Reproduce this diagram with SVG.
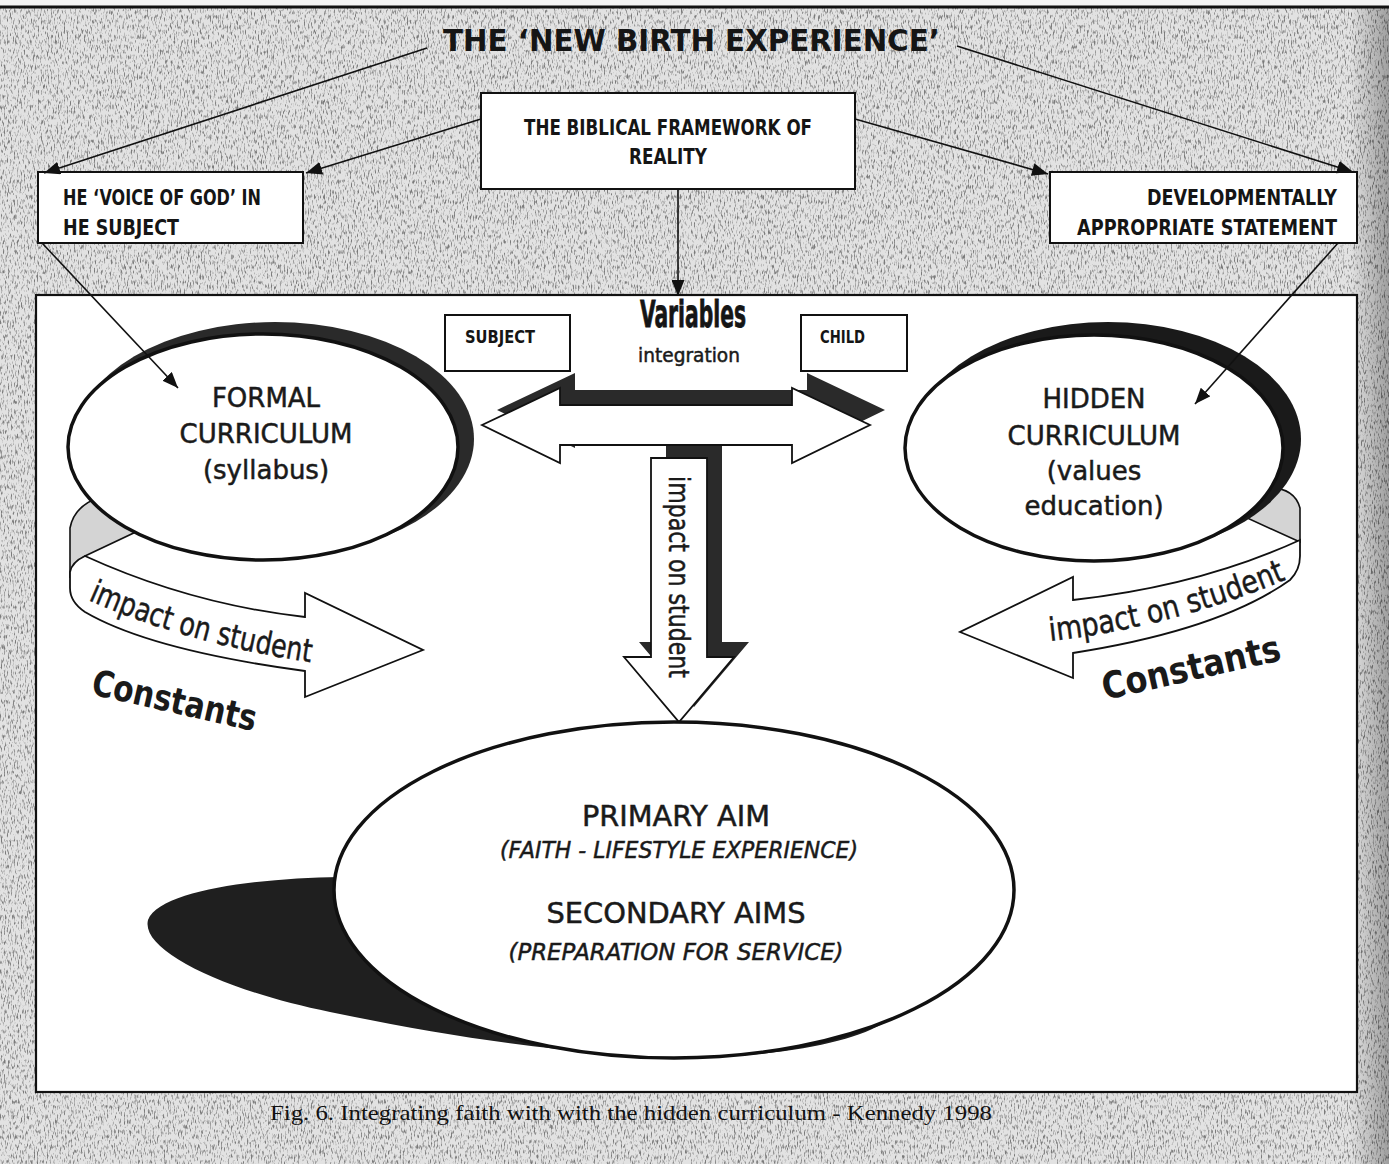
<svg xmlns="http://www.w3.org/2000/svg" width="1389" height="1164" viewBox="0 0 1389 1164">
  <defs>
    <style>
      .box{fill:#fff;stroke:#111;stroke-width:2}
      .cond{font-family:"Liberation Sans Narrow","DejaVu Sans Condensed","Liberation Sans",sans-serif;font-weight:bold;fill:#151515}
      .geo{font-family:"DejaVu Sans","Liberation Sans",sans-serif;fill:#1a1a1a;stroke:#1a1a1a;stroke-width:0.5}
      .geoB{font-family:"DejaVu Sans","Liberation Sans",sans-serif;font-weight:bold;fill:#1a1a1a}
      .conn{stroke:#111;stroke-width:1.6;fill:none;marker-end:url(#ah)}
      .outline{fill:#fff;stroke:#111;stroke-width:1.8;stroke-linejoin:miter}
      .shade{fill:#2a2a2a}
      .ell{fill:#fff;stroke:#111;stroke-width:3.5}
    </style>
    <marker id="ah" markerUnits="userSpaceOnUse" markerWidth="17" markerHeight="13" refX="16" refY="6.5" orient="auto">
      <path d="M0,0 L16,6.5 L0,13 Z" fill="#111"/>
    </marker>
    <filter id="grain" x="0" y="0" width="100%" height="100%">
      <feTurbulence type="fractalNoise" baseFrequency="0.7 0.2" numOctaves="2" seed="7"/>
      <feColorMatrix type="matrix" values="0 0 0 0 0  0 0 0 0 0  0 0 0 0 0  4 0 0 0 -2.05"/>
    </filter>
    <linearGradient id="edge" x1="0" y1="0" x2="1" y2="0">
      <stop offset="0" stop-color="#000" stop-opacity="0"/>
      <stop offset="1" stop-color="#000" stop-opacity="0.3"/>
    </linearGradient>
  </defs>

  <!-- page background with scanned grain -->
  <rect x="0" y="0" width="1389" height="1164" fill="#f4f4f4"/>
  <rect x="0" y="7" width="1389" height="1157" fill="#e2e2e2"/>
  <rect x="0" y="7" width="1389" height="1157" filter="url(#grain)" opacity="0.45"/>
  <rect x="1350" y="7" width="39" height="1157" fill="url(#edge)"/>
  <line x1="0" y1="7" x2="1389" y2="7" stroke="#111" stroke-width="3"/>

  <!-- inner frame -->
  <rect id="frame" x="36" y="295" width="1321" height="797" fill="#fff" stroke="#111" stroke-width="2.2"/>

  <!-- title -->
  <g id="title">
    <text class="cond" x="443" y="51" font-size="31" textLength="497" lengthAdjust="spacingAndGlyphs">THE ‘NEW BIRTH EXPERIENCE’</text>
  </g>

  <g id="framework">
    <rect class="box" x="481" y="93" width="374" height="96"/>
    <text class="cond" x="668" y="135" font-size="21" text-anchor="middle" textLength="288" lengthAdjust="spacingAndGlyphs">THE BIBLICAL FRAMEWORK OF</text>
    <text class="cond" x="668" y="164" font-size="21" text-anchor="middle" textLength="78" lengthAdjust="spacingAndGlyphs">REALITY</text>
  </g>

  <g id="voice-of-god">
    <rect class="box" x="38" y="172" width="265" height="71"/>
    <text class="cond" x="63" y="205" font-size="21" textLength="198" lengthAdjust="spacingAndGlyphs">HE ‘VOICE OF GOD’ IN</text>
    <text class="cond" x="63" y="235" font-size="21" textLength="116" lengthAdjust="spacingAndGlyphs">HE SUBJECT</text>
  </g>

  <g id="developmental">
    <rect class="box" x="1050" y="172" width="307" height="71"/>
    <text class="cond" x="1337" y="205" font-size="21" text-anchor="end" textLength="190" lengthAdjust="spacingAndGlyphs">DEVELOPMENTALLY</text>
    <text class="cond" x="1337" y="235" font-size="21" text-anchor="end" textLength="260" lengthAdjust="spacingAndGlyphs">APPROPRIATE STATEMENT</text>
  </g>

  <!-- ring bands behind the curriculum ellipses -->
  <g id="formal-band-back">
    <path d="M70,578 L70,528 Q74,506 100,497 L140,530 L85,556 Q74,563 70,578 Z" fill="#d4d4d4" stroke="#111" stroke-width="1.6"/>
  </g>
  <g id="hidden-band-back">
    <path d="M1238,492 Q1292,478 1300,508 L1300,542 L1245,517 Z" fill="#d4d4d4" stroke="#111" stroke-width="1.6"/>
  </g>

  <!-- formal curriculum -->
  <g id="formal-curriculum">
    <ellipse class="shade" cx="275" cy="439" rx="199" ry="117"/>
    <ellipse class="ell" cx="263" cy="447" rx="195" ry="113"/>
    <text class="geo" x="266" y="407" font-size="26" text-anchor="middle">FORMAL</text>
    <text class="geo" x="266" y="443" font-size="26" text-anchor="middle">CURRICULUM</text>
    <text class="geo" x="266" y="479" font-size="26" text-anchor="middle">(syllabus)</text>
  </g>

  <!-- hidden curriculum -->
  <g id="hidden-curriculum">
    <ellipse cx="1108" cy="439" rx="193" ry="117" fill="#1a1a1a"/>
    <ellipse class="ell" cx="1094" cy="448" rx="189" ry="113"/>
    <text class="geo" x="1094" y="408" font-size="26" text-anchor="middle">HIDDEN</text>
    <text class="geo" x="1094" y="445" font-size="26" text-anchor="middle">CURRICULUM</text>
    <text class="geo" x="1094" y="480" font-size="26" text-anchor="middle">(values</text>
    <text class="geo" x="1094" y="515" font-size="26" text-anchor="middle">education)</text>
  </g>

  <!-- curved "impact on student" band arrows -->
  <g id="formal-band">
    <path class="outline" d="M85,556 Q190,604 305,617 L305,593 L423,650 L305,697 L305,671 Q150,650 85,612 Q70,602 70,588 L70,572 Q72,562 85,556 Z"/>
    <path id="fbText" d="M88,600 Q190,645 322,664" fill="none"/>
    <text class="geo" font-size="32"><textPath href="#fbText" textLength="232" lengthAdjust="spacingAndGlyphs">impact on student</textPath></text>
  </g>
  <g id="formal-constants">
    <text class="geoB" x="90" y="694" font-size="36" transform="rotate(12.8 90 694)" textLength="168" lengthAdjust="spacingAndGlyphs">Constants</text>
  </g>

  <g id="hidden-band">
    <path class="outline" d="M1300,540 Q1200,586 1073,600 L1073,577 L960,632 L1073,678 L1073,653 Q1220,630 1290,580 Q1300,570 1300,556 Z"/>
    <path id="hbText" d="M1050,641 Q1170,628 1290,578" fill="none"/>
    <text class="geo" font-size="32"><textPath href="#hbText" textLength="245" lengthAdjust="spacingAndGlyphs">impact on student</textPath></text>
  </g>
  <g id="hidden-constants">
    <text class="geoB" x="1105" y="700" font-size="37" transform="rotate(-12.7 1105 700)" textLength="182" lengthAdjust="spacingAndGlyphs">Constants</text>
  </g>

  <!-- variables: subject / child integration -->
  <g id="subject">
    <rect class="box" x="445" y="315" width="125" height="56"/>
    <text class="cond" x="465" y="343" font-size="17" textLength="70" lengthAdjust="spacingAndGlyphs">SUBJECT</text>
  </g>
  <g id="child">
    <rect class="box" x="801" y="315" width="106" height="56"/>
    <text class="cond" x="820" y="343" font-size="17" textLength="45" lengthAdjust="spacingAndGlyphs">CHILD</text>
  </g>
  <g id="variables">
    <text class="cond" x="640" y="327" font-size="38" font-weight="900" stroke="#151515" stroke-width="0.8" textLength="106" lengthAdjust="spacingAndGlyphs">Variables</text>
    <text class="geo" x="638" y="362" font-size="19" textLength="102" lengthAdjust="spacingAndGlyphs">integration</text>
  </g>

  <!-- integration double arrow and downward impact arrow -->
  <g id="integration-arrow">
    <path class="shade" d="M497,410 L575,373 L575,390 L807,390 L807,373 L885,410 L807,448 L807,430 L575,430 L575,448 Z"/>
    <path class="outline" d="M482,425 L560,388 L560,405 L792,405 L792,388 L870,425 L792,463 L792,445 L560,445 L560,463 Z"/>
  </g>
  <g id="impact-arrow">
    <path class="shade" d="M666,446 L722,446 L722,642 L749,642 L694,707 L639,642 L666,642 Z"/>
    <path class="outline" d="M651,458 L707,458 L707,657 L734,657 L679,722 L624,657 L651,657 Z"/>
    <text class="geo" x="0" y="0" font-size="28" transform="translate(669 476) rotate(90)" textLength="202" lengthAdjust="spacingAndGlyphs">impact on student</text>
  </g>

  <!-- aims -->
  <g id="aims">
    <path d="M340,877 C260,878 160,890 148,920 C140,952 230,992 330,1012 C470,1041 600,1059 720,1057 C800,1053 860,1039 885,1022 L600,900 Z" fill="#1f1f1f"/>
    <ellipse class="ell" cx="674" cy="890" rx="340" ry="168"/>
    <text class="geo" x="676" y="826" font-size="28" text-anchor="middle" textLength="188" lengthAdjust="spacingAndGlyphs">PRIMARY AIM</text>
    <text class="geo" x="679" y="858" font-size="23" font-style="italic" text-anchor="middle" textLength="358" lengthAdjust="spacingAndGlyphs">(FAITH - LIFESTYLE EXPERIENCE)</text>
    <text class="geo" x="676" y="923" font-size="28" text-anchor="middle" textLength="259" lengthAdjust="spacingAndGlyphs">SECONDARY AIMS</text>
    <text class="geo" x="676" y="960" font-size="23" font-style="italic" text-anchor="middle" textLength="335" lengthAdjust="spacingAndGlyphs">(PREPARATION FOR SERVICE)</text>
  </g>

  <!-- connectors -->
  <g id="connectors">
    <line class="conn" x1="427" y1="48" x2="44" y2="173"/>
    <line class="conn" x1="957" y1="46" x2="1353" y2="172"/>
    <line class="conn" x1="481" y1="119" x2="306" y2="173"/>
    <line class="conn" x1="855" y1="119" x2="1048" y2="174"/>
    <line class="conn" x1="678" y1="189" x2="678" y2="296"/>
    <line class="conn" x1="42" y1="243" x2="178" y2="388"/>
    <line class="conn" x1="1338" y1="243" x2="1195" y2="404"/>
  </g>

  <!-- caption -->
  <text x="270" y="1120" font-family="'Liberation Serif','Times New Roman',serif" font-size="22" fill="#111" textLength="722" lengthAdjust="spacingAndGlyphs">Fig. 6. Integrating faith with with the hidden curriculum - Kennedy  1998</text>
</svg>
